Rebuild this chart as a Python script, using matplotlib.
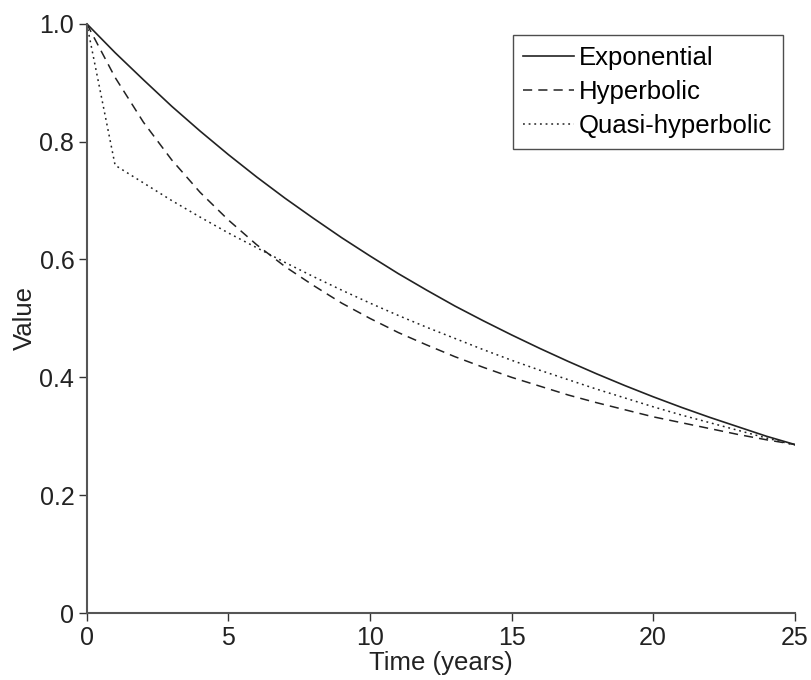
import matplotlib
matplotlib.use("Agg")
from matplotlib import pyplot as plt

plt.rcParams['font.family'] = ['Liberation Sans', 'DejaVu Sans']

# values, one per year
years = list(range(26))
exponential = [1.000, 0.951, 0.905, 0.860, 0.818, 0.778, 0.740, 0.704, 0.670, 0.637,
               0.606, 0.576, 0.548, 0.521, 0.496, 0.472, 0.449, 0.427, 0.406, 0.386,
               0.367, 0.349, 0.332, 0.316, 0.300, 0.286]
hyperbolic = [1.000, 0.909, 0.833, 0.769, 0.714, 0.667, 0.625, 0.588, 0.556, 0.526,
              0.500, 0.476, 0.455, 0.435, 0.417, 0.400, 0.385, 0.370, 0.357, 0.345,
              0.333, 0.323, 0.313, 0.303, 0.294, 0.286]
quasi = [1.000, 0.760, 0.730, 0.700, 0.672, 0.645, 0.620, 0.595, 0.571, 0.548,
         0.526, 0.505, 0.485, 0.466, 0.447, 0.429, 0.412, 0.396, 0.380, 0.365,
         0.350, 0.336, 0.323, 0.310, 0.297, 0.285]

x_ticks = [0, 5, 10, 15, 20, 25]
y_ticks = [0, 0.2, 0.4, 0.6, 0.8, 1.0]
y_labels = ['0', '0.2', '0.4', '0.6', '0.8', '1.0']

fig = plt.figure(figsize=(8.11, 6.8), dpi=100)
ax = fig.add_axes([0.107, 0.0985, 0.873, 0.8665])

ax.plot(years, exponential, color='#222222', lw=1.2, ls='-', label='Exponential')
ax.plot(years, hyperbolic, color='#222222', lw=1.1, ls=(0, (6, 4)), label='Hyperbolic')
ax.plot(years, quasi, color='#222222', lw=1.1, ls=(0, (1.2, 2.5)), label='Quasi-hyperbolic')

ax.set_xlim(0, 25)
ax.set_ylim(0, 1.0)
ax.set_xticks(x_ticks)
ax.set_yticks(y_ticks)
ax.set_yticklabels(y_labels)
ax.tick_params(direction='out', length=6, width=1, colors='#333333',
               labelsize=18, labelcolor='#222222', pad=3)
for side in ['top', 'right']:
    ax.spines[side].set_visible(False)
for side in ['left', 'bottom']:
    ax.spines[side].set_color('#555555')
    ax.spines[side].set_linewidth(1.5)

ax.set_xlabel('Time (years)', fontsize=18.5, labelpad=1, color='#222222')
ax.set_ylabel('Value', fontsize=18.5, labelpad=2, color='#222222')

leg = ax.legend(loc='upper right', bbox_to_anchor=(0.983, 0.981), fontsize=18.5,
                frameon=True, fancybox=False, handlelength=1.95, handletextpad=0.2,
                labelspacing=0.4, borderpad=0.42, borderaxespad=0)
leg.get_frame().set_edgecolor('#222222')
leg.get_frame().set_linewidth(1.0)

fig.savefig('out.png', dpi=100)
